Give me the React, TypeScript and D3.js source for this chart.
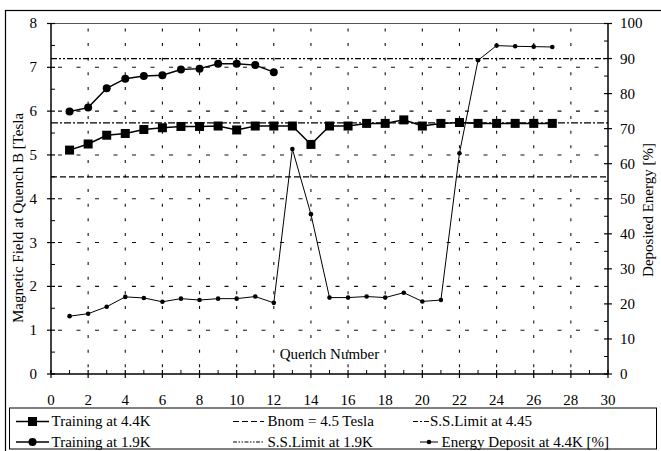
import React from "react";
import * as d3 from "d3";

const quench = d3.range(1, 28);
const training44 = [5.11, 5.25, 5.45, 5.49, 5.58, 5.62, 5.65, 5.65, 5.66, 5.57, 5.66, 5.66, 5.66, 5.24, 5.66, 5.66, 5.72, 5.72, 5.8, 5.66, 5.72, 5.74, 5.72, 5.72, 5.72, 5.72, 5.72];
const quench19 = d3.range(1, 13);
const training19 = [5.99, 6.08, 6.52, 6.74, 6.8, 6.82, 6.95, 6.97, 7.08, 7.08, 7.05, 6.89];
const energy44 = [16.5, 17.2, 19.2, 22.0, 21.7, 20.6, 21.5, 21.1, 21.5, 21.5, 22.1, 20.3, 64.2, 45.6, 21.8, 21.8, 22.1, 21.8, 23.2, 20.7, 21.1, 63.0, 89.5, 93.7, 93.5, 93.4, 93.3];
const bnom = 4.5;
const ssLimit44 = 5.73;
const ssLimit19 = 7.2;
const xTicks = d3.range(0, 31, 2);
const yTicks = d3.range(0, 9, 1);
const y2Ticks = d3.range(0, 101, 10);
const legendLabels = ["Training at 4.4K", "Bnom = 4.5 Tesla", "S.S.Limit at 4.45", "Training at 1.9K", "S.S.Limit at 1.9K", "Energy Deposit at 4.4K [%]"];

const FONT = "'Liberation Serif', 'DejaVu Serif', serif";

export default function App() {
  const W = 661, H = 451;
  const L = 51, R = 608, T = 23.5, B = 374;
  const x = d3.scaleLinear().domain([0, 30]).range([L, R]);
  const y = d3.scaleLinear().domain([0, 8]).range([B, T]);
  const y2 = d3.scaleLinear().domain([0, 100]).range([B, T]);

  const line44 = d3.line<number>().x((_, i) => x(quench[i])).y((d) => y(d))(training44) || "";
  const line19 = d3.line<number>().x((_, i) => x(quench19[i])).y((d) => y(d))(training19) || "";
  const lineE = d3.line<number>().x((_, i) => x(quench[i])).y((d) => y2(d))(energy44) || "";

  const fs = 15;
  const gridH = d3.range(1, 8);
  const gridV = d3.range(2, 30, 2);
  const minorX = d3.range(1, 30, 2);
  const minorY = d3.range(0.5, 8, 1);
  const minorY2 = d3.range(5, 100, 10);

  const legendRow1 = 421.5, legendRow2 = 442;
  const T_ = (props: any) => <text fontFamily={FONT} fill="#000" {...props} />;

  return (
    <svg width={W} height={H} style={{ position: "absolute", left: 0, top: 0 }} fontFamily={FONT}>
      <rect x={0} y={0} width={W} height={H} fill="white" />
      <rect x={5.5} y={10.5} width={670} height={460} fill="none" stroke="#000" strokeWidth={1.2} />
      {gridH.map((v) => (
        <line key={"gh" + v} x1={L} x2={R} y1={y(v)} y2={y(v)} stroke="#111" strokeWidth={1.1} strokeDasharray="4,14.5" strokeDashoffset={-7} />
      ))}
      {gridV.map((v) => (
        <line key={"gv" + v} x1={x(v)} x2={x(v)} y1={T} y2={B} stroke="#111" strokeWidth={1.1} strokeDasharray="3,11.6" strokeDashoffset={-5} />
      ))}
      <line x1={L} x2={R} y1={T} y2={T} stroke="#555" strokeWidth={1} />
      <line x1={L} x2={R} y1={y(bnom)} y2={y(bnom)} stroke="#000" strokeWidth={1.2} strokeDasharray="6,3" />
      <line x1={L} x2={R} y1={y(ssLimit44)} y2={y(ssLimit44)} stroke="#000" strokeWidth={1.2} strokeDasharray="7,2,2,2" />
      <line x1={L} x2={R} y1={y(ssLimit19)} y2={y(ssLimit19)} stroke="#000" strokeWidth={1.2} strokeDasharray="6,2,2,2,2,2" />
      <line x1={L} x2={L} y1={T} y2={B} stroke="#000" strokeWidth={1.5} />
      <line x1={R} x2={R} y1={T} y2={B} stroke="#000" strokeWidth={1.5} />
      <line x1={L} x2={R} y1={B} y2={B} stroke="#000" strokeWidth={1.5} />
      {yTicks.map((v) => (
        <g key={"yt" + v}>
          <line x1={L - 4} x2={L + 4} y1={y(v)} y2={y(v)} stroke="#000" strokeWidth={1.2} />
          <T_ x={37} y={y(v)} dy="0.33em" textAnchor="end" fontSize={fs}>{v}</T_>
        </g>
      ))}
      {minorY.map((v) => (
        <line key={"ym" + v} x1={L} x2={L + 4} y1={y(v)} y2={y(v)} stroke="#000" strokeWidth={1} />
      ))}
      {y2Ticks.map((v) => (
        <g key={"y2t" + v}>
          <line x1={R - 4} x2={R + 4} y1={y2(v)} y2={y2(v)} stroke="#000" strokeWidth={1.2} />
          <T_ x={620} y={y2(v)} dy="0.33em" textAnchor="start" fontSize={fs}>{v}</T_>
        </g>
      ))}
      {minorY2.map((v) => (
        <line key={"y2m" + v} x1={R - 4} x2={R} y1={y2(v)} y2={y2(v)} stroke="#000" strokeWidth={1} />
      ))}
      {xTicks.map((v) => (
        <g key={"xt" + v}>
          <line x1={x(v)} x2={x(v)} y1={B - 4} y2={B + 4} stroke="#000" strokeWidth={1.2} />
          <T_ x={x(v)} y={400} dy="0.33em" textAnchor="middle" fontSize={fs}>{v}</T_>
        </g>
      ))}
      {minorX.map((v) => (
        <line key={"xm" + v} x1={x(v)} x2={x(v)} y1={B - 4} y2={B} stroke="#000" strokeWidth={1} />
      ))}
      <T_ x={329.5} y={354} dy="0.33em" textAnchor="middle" fontSize={fs}>Quench Number</T_>
      <T_ transform={`translate(18,218) rotate(-90)`} dy="0.33em" textAnchor="middle" fontSize={fs}>Magnetic Field at Quench B [Tesla</T_>
      <T_ transform={`translate(648,210) rotate(-90)`} dy="0.33em" textAnchor="middle" fontSize={fs}>Deposited Energy [%]</T_>
      <path d={lineE} fill="none" stroke="#000" strokeWidth={1} />
      {energy44.map((v, i) => (
        <circle key={"e" + i} cx={x(quench[i])} cy={y2(v)} r={2.3} fill="#000" />
      ))}
      <path d={line44} fill="none" stroke="#000" strokeWidth={1.5} />
      {training44.map((v, i) => (
        <rect key={"s" + i} x={x(quench[i]) - 4.5} y={y(v) - 4.5} width={9} height={9} fill="#000" />
      ))}
      <path d={line19} fill="none" stroke="#000" strokeWidth={1.5} />
      {training19.map((v, i) => (
        <circle key={"c" + i} cx={x(quench19[i])} cy={y(v)} r={4} fill="#000" />
      ))}
      <rect x={9.5} y={408} width={647} height={41} fill="white" stroke="#000" strokeWidth={1} />
      <line x1={16} x2={49} y1={legendRow1} y2={legendRow1} stroke="#000" strokeWidth={1.5} />
      <rect x={28} y={legendRow1 - 4.5} width={9} height={9} fill="#000" />
      <T_ x={51.5} y={legendRow1} dy="0.33em" fontSize={fs}>{legendLabels[0]}</T_>
      <line x1={233} x2={264} y1={legendRow1} y2={legendRow1} stroke="#000" strokeWidth={1.2} strokeDasharray="6,3" />
      <T_ x={267.5} y={legendRow1} dy="0.33em" fontSize={fs}>{legendLabels[1]}</T_>
      <line x1={413} x2={429} y1={legendRow1} y2={legendRow1} stroke="#000" strokeWidth={1.2} strokeDasharray="5,2,2,2" />
      <T_ x={430} y={legendRow1} dy="0.33em" fontSize={fs}>{legendLabels[2]}</T_>
      <line x1={16} x2={49} y1={legendRow2} y2={legendRow2} stroke="#000" strokeWidth={1.5} />
      <circle cx={32.5} cy={legendRow2} r={4} fill="#000" />
      <T_ x={51.5} y={legendRow2} dy="0.33em" fontSize={fs}>{legendLabels[3]}</T_>
      <line x1={233} x2={264} y1={legendRow2} y2={legendRow2} stroke="#000" strokeWidth={1} strokeDasharray="4,1.5,1.5,1.5,1.5,1.5" />
      <T_ x={267.5} y={legendRow2} dy="0.33em" fontSize={fs}>{legendLabels[4]}</T_>
      <line x1={420} x2={438} y1={legendRow2} y2={legendRow2} stroke="#000" strokeWidth={1} />
      <circle cx={429} cy={legendRow2} r={2.3} fill="#000" />
      <T_ x={441.5} y={legendRow2} dy="0.33em" fontSize={fs}>{legendLabels[5]}</T_>
    </svg>
  );
}
